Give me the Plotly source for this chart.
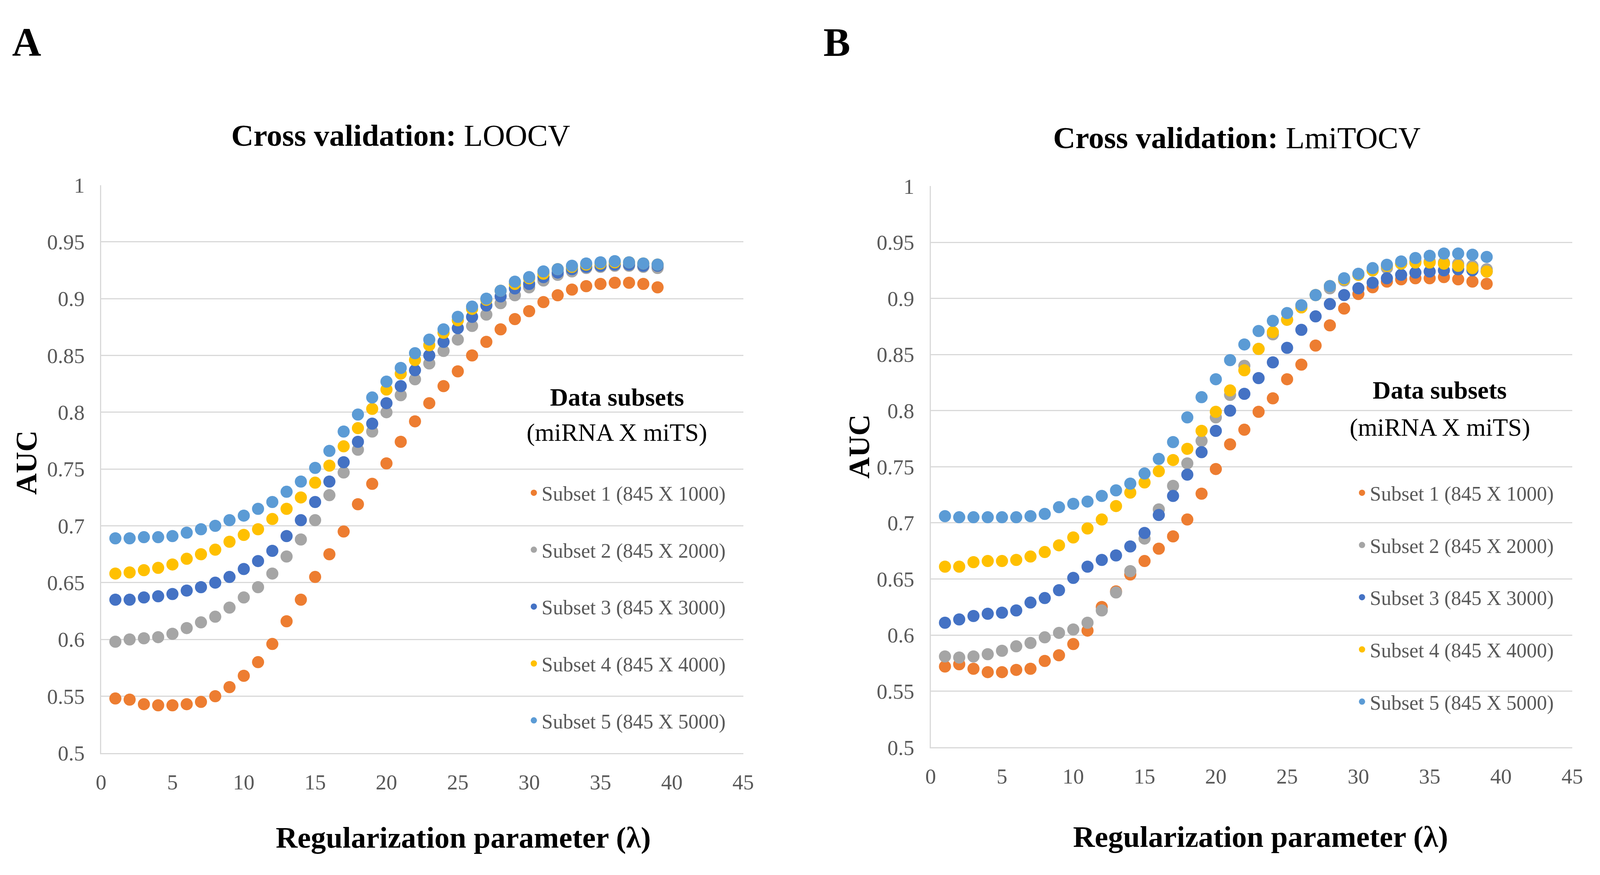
import plotly.graph_objects as go

# ---------------- data ----------------
LAMBDA = [1, 2, 3, 4, 5, 6, 7, 8, 9, 10, 11, 12, 13, 14, 15, 16, 17, 18, 19, 20,
          21, 22, 23, 24, 25, 26, 27, 28, 29, 30, 31, 32, 33, 34, 35, 36, 37, 38, 39]

SERIES_NAMES = ["Subset 1 (845 X 1000)", "Subset 2 (845 X 2000)", "Subset 3 (845 X 3000)",
                "Subset 4 (845 X 4000)", "Subset 5 (845 X 5000)"]
SERIES_COLORS = ["#ED7D31", "#A5A5A5", "#4472C4", "#FFC000", "#5B9BD5"]

# Panel A: LOOCV
A_S1 = [0.548, 0.547, 0.543, 0.542, 0.542, 0.543, 0.545, 0.550, 0.558, 0.568,
        0.580, 0.596, 0.616, 0.635, 0.655, 0.675, 0.695, 0.719, 0.737, 0.755,
        0.774, 0.792, 0.808, 0.823, 0.836, 0.850, 0.862, 0.873, 0.882, 0.889,
        0.897, 0.903, 0.908, 0.911, 0.913, 0.914, 0.914, 0.913, 0.910]
A_S2 = [0.598, 0.600, 0.601, 0.602, 0.605, 0.610, 0.615, 0.620, 0.628, 0.637,
        0.646, 0.658, 0.673, 0.688, 0.705, 0.727, 0.747, 0.767, 0.783, 0.800,
        0.815, 0.829, 0.843, 0.854, 0.864, 0.876, 0.886, 0.896, 0.903, 0.910,
        0.916, 0.921, 0.924, 0.927, 0.928, 0.929, 0.929, 0.928, 0.927]
A_S3 = [0.635, 0.635, 0.637, 0.638, 0.640, 0.643, 0.646, 0.650, 0.655, 0.662,
        0.669, 0.678, 0.691, 0.705, 0.721, 0.739, 0.756, 0.774, 0.790, 0.808,
        0.823, 0.837, 0.850, 0.862, 0.874, 0.884, 0.894, 0.902, 0.909, 0.913,
        0.919, 0.923, 0.926, 0.928, 0.929, 0.930, 0.930, 0.929, 0.929]
A_S4 = [0.658, 0.659, 0.661, 0.663, 0.666, 0.671, 0.675, 0.679, 0.686, 0.692,
        0.697, 0.706, 0.715, 0.725, 0.738, 0.753, 0.770, 0.786, 0.803, 0.820,
        0.834, 0.846, 0.859, 0.870, 0.881, 0.891, 0.899, 0.907, 0.913, 0.918,
        0.922, 0.926, 0.928, 0.930, 0.931, 0.932, 0.932, 0.931, 0.930]
A_S5 = [0.689, 0.689, 0.690, 0.690, 0.691, 0.694, 0.697, 0.700, 0.705, 0.709,
        0.715, 0.721, 0.730, 0.739, 0.751, 0.766, 0.783, 0.798, 0.813, 0.827,
        0.839, 0.852, 0.864, 0.873, 0.884, 0.893, 0.900, 0.907, 0.915, 0.919,
        0.924, 0.926, 0.929, 0.931, 0.932, 0.933, 0.932, 0.931, 0.930]

# Panel B: LmiTOCV
B_S1 = [0.572, 0.574, 0.570, 0.567, 0.567, 0.569, 0.570, 0.577, 0.582, 0.592,
        0.604, 0.625, 0.639, 0.654, 0.666, 0.677, 0.688, 0.703, 0.726, 0.748,
        0.770, 0.783, 0.799, 0.811, 0.828, 0.841, 0.858, 0.876, 0.891, 0.904,
        0.910, 0.915, 0.917, 0.918, 0.918, 0.919, 0.917, 0.915, 0.913]
B_S2 = [0.581, 0.580, 0.581, 0.583, 0.586, 0.590, 0.593, 0.598, 0.602, 0.605,
        0.611, 0.622, 0.638, 0.657, 0.686, 0.712, 0.733, 0.753, 0.773, 0.794,
        0.814, 0.840, 0.855, 0.868, 0.881, 0.892, 0.903, 0.909, 0.916, 0.921,
        0.925, 0.927, 0.931, 0.933, 0.933, 0.932, 0.931, 0.929, 0.926]
B_S3 = [0.611, 0.614, 0.617, 0.619, 0.620, 0.622, 0.629, 0.633, 0.640, 0.651,
        0.661, 0.667, 0.671, 0.679, 0.691, 0.707, 0.724, 0.743, 0.763, 0.782,
        0.800, 0.815, 0.829, 0.843, 0.856, 0.872, 0.884, 0.895, 0.903, 0.909,
        0.914, 0.918, 0.921, 0.923, 0.924, 0.925, 0.926, 0.925, 0.924]
B_S4 = [0.661, 0.661, 0.665, 0.666, 0.666, 0.667, 0.670, 0.674, 0.680, 0.687,
        0.695, 0.703, 0.715, 0.727, 0.736, 0.746, 0.756, 0.766, 0.782, 0.799,
        0.818, 0.836, 0.855, 0.870, 0.881, 0.892, 0.903, 0.911, 0.917, 0.921,
        0.925, 0.929, 0.931, 0.932, 0.932, 0.931, 0.929, 0.927, 0.924]
B_S5 = [0.706, 0.705, 0.705, 0.705, 0.705, 0.705, 0.706, 0.708, 0.714, 0.717,
        0.719, 0.724, 0.729, 0.735, 0.744, 0.757, 0.772, 0.794, 0.812, 0.828,
        0.845, 0.859, 0.871, 0.880, 0.887, 0.894, 0.903, 0.911, 0.918, 0.922,
        0.927, 0.930, 0.933, 0.936, 0.938, 0.940, 0.940, 0.939, 0.937]

X_TICKS = [0, 5, 10, 15, 20, 25, 30, 35, 40, 45]
Y_TICKS = [0.5, 0.55, 0.6, 0.65, 0.7, 0.75, 0.8, 0.85, 0.9, 0.95, 1.0]
Y_TICK_TEXT = ["0.5", "0.55", "0.6", "0.65", "0.7", "0.75", "0.8", "0.85", "0.9", "0.95", "1"]

PANEL_A = [A_S1, A_S2, A_S3, A_S4, A_S5]
PANEL_B = [B_S1, B_S2, B_S3, B_S4, B_S5]

# ---------------- figure ----------------
# Reference canvas (for relative placement) and the real browser viewport
# (the browser window is clamped to 4096 px wide, full 2239 px high).
RW, RH = 5516, 2239
FW, FH = 4096, 2239
K = 0.86                       # font / marker scale for the narrower canvas
KL = 0.80                      # legend text scale
SX = FW / RW                   # horizontal scale

FONT = "Liberation Serif, Times New Roman, serif"
GRID = "#D9D9D9"
TICKC = "#595959"

def fx(x):
    return x / RW

def fy(y):
    return 1 - y / RH

fig = go.Figure()

for panel, data, xa, ya, lg in (("A", PANEL_A, "x", "y", "legend"),
                                 ("B", PANEL_B, "x2", "y2", "legend2")):
    for name, color, vals in zip(SERIES_NAMES, SERIES_COLORS, data):
        fig.add_trace(go.Scatter(
            x=LAMBDA, y=vals, mode="markers", name=name,
            marker=dict(color=color, size=round(36 * K), line=dict(width=0)),
            xaxis=xa, yaxis=ya, legend=lg, legendgroup=panel + name,
            cliponaxis=False,
        ))

def xaxis(domain, anchor):
    return dict(domain=domain, anchor=anchor, range=[0, 45], tickvals=X_TICKS,
                showgrid=False, zeroline=False, showline=True, linecolor=GRID,
                linewidth=3, ticks="", ticklabelstandoff=24,
                tickfont=dict(family=FONT, size=round(64 * K), color=TICKC))

def yaxis(domain, anchor):
    return dict(domain=domain, anchor=anchor, range=[0.5, 1.0], tickvals=Y_TICKS,
                ticktext=Y_TICK_TEXT, showgrid=True, gridcolor=GRID, gridwidth=3,
                zeroline=False, showline=True, linecolor=GRID, linewidth=3,
                ticks="", ticklabelstandoff=28,
                tickfont=dict(family=FONT, size=round(64 * K), color=TICKC))

def legend(x, y, gap):
    return dict(x=x, y=y, xanchor="left", yanchor="top",
                bgcolor="rgba(0,0,0,0)", borderwidth=0,
                font=dict(family=FONT, size=round(65 * KL), color=TICKC),
                tracegroupgap=gap, itemsizing="trace")

fig.update_layout(
    width=FW, height=FH, margin=dict(l=0, r=0, t=0, b=0),
    paper_bgcolor="white", plot_bgcolor="white",
    font=dict(family=FONT),
    showlegend=True,
    xaxis=xaxis([fx(333), fx(2569)], "y"),
    yaxis=yaxis([fy(1950), fy(456)], "x"),
    xaxis2=xaxis([fx(3222), fx(5456)], "y2"),
    yaxis2=yaxis([fy(1935), fy(459)], "x2"),
    legend=legend((1837 * SX - 18) / FW, fy(1224), 75),
    legend2=legend((4721 * SX - 18) / FW, fy(1224), 63),
)

def ann(text, x, y, size, angle=0, color="black"):
    fig.add_annotation(text=text, x=fx(x), y=fy(y), xref="paper", yref="paper",
                       showarrow=False, textangle=angle, xanchor="center", yanchor="middle",
                       font=dict(family=FONT, size=round(size * K), color=color))

ann("<b>A</b>", 73, 80, 120)
ann("<b>B</b>", 2895, 80, 120)
ann("<b>Cross validation:</b> LOOCV", 1377, 325, 92)
ann("<b>Cross validation:</b> LmiTOCV", 4288, 332, 92)
ann("<b>AUC</b>", 71, 1186, 88, angle=-90)
ann("<b>AUC</b>", 2972, 1143, 88, angle=-90)
ann("<b>Regularization parameter (λ)</b>", 1594, 2172, 90)
ann("<b>Regularization parameter (λ)</b>", 4371, 2170, 90)
# legend headings
ann("<b>Data subsets</b>", 2129, 1014, 74)
ann("(miRNA X miTS)", 2129, 1107, 74)
ann("<b>Data subsets</b>", 4995, 996, 74)
ann("(miRNA X miTS)", 4995, 1093, 74)

# Remove default page margins so the figure sits exactly in the window.
POST = """
(function(){
  document.documentElement.style.margin = '0';
  document.body.style.margin = '0';
  document.body.style.padding = '0';
  document.documentElement.style.overflow = 'hidden';
  document.body.style.overflow = 'hidden';
})();
"""

fig.write_html("out.html", post_script=POST, config={"displayModeBar": False})
